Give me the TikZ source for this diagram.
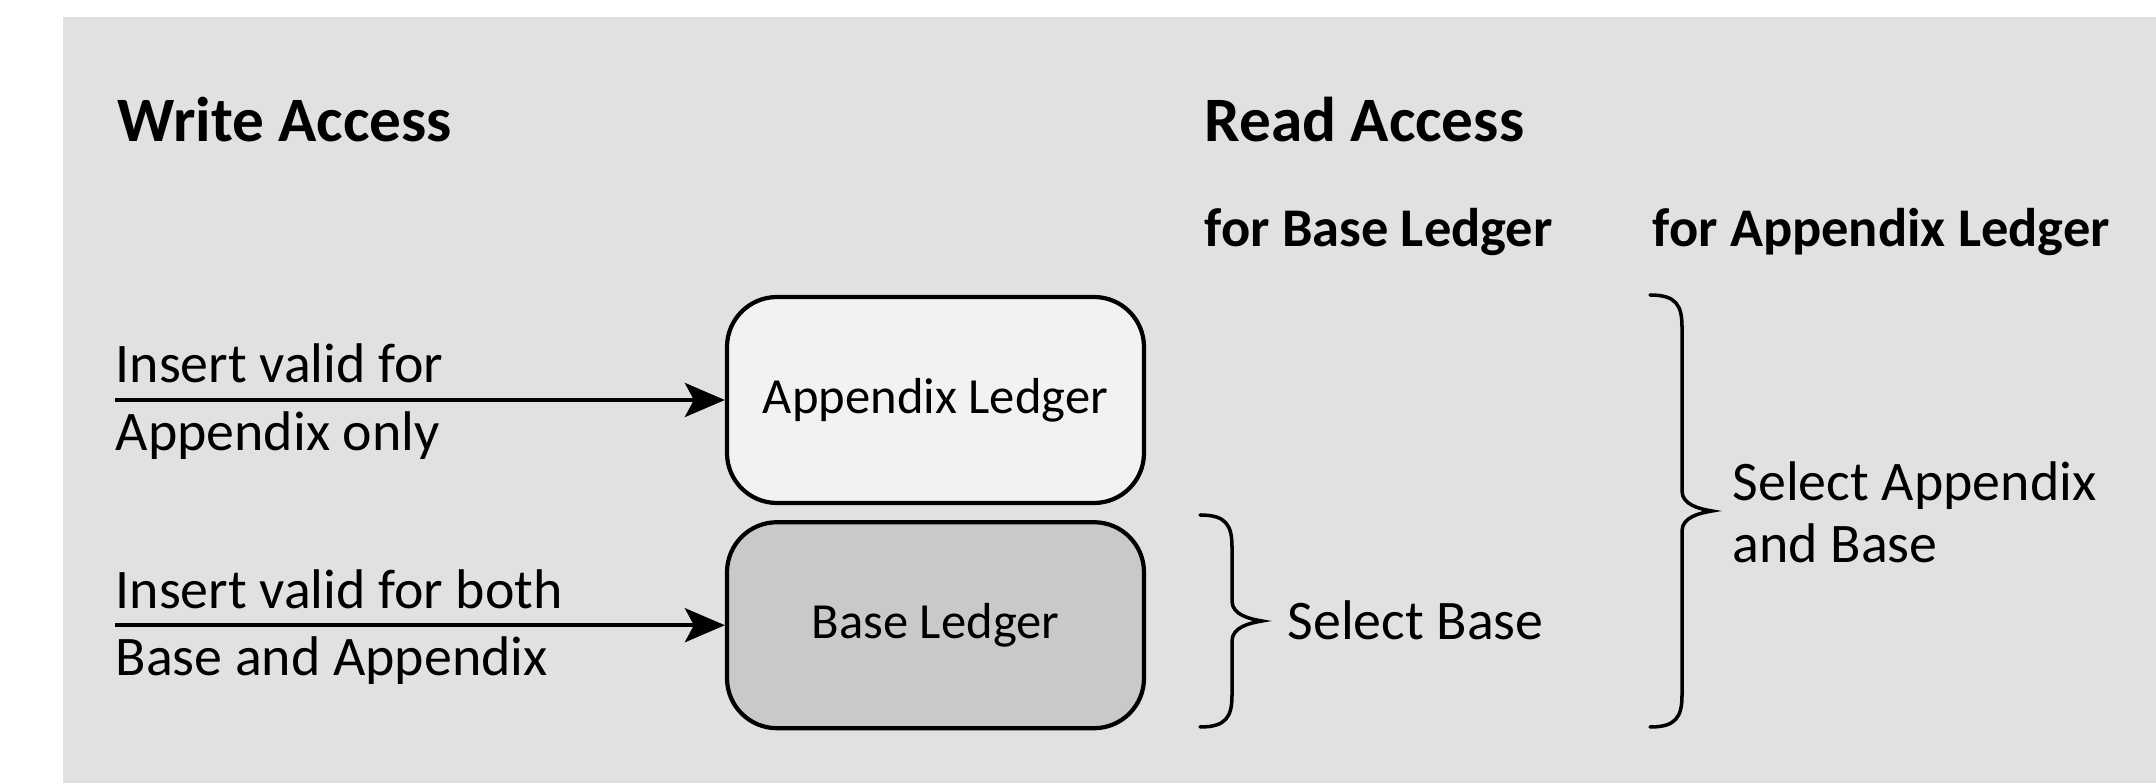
\documentclass[tikz,border=0pt]{standalone}
\usepackage{fontspec}
\setmainfont{Carlito}
\usetikzlibrary{positioning,arrows.meta}
\definecolor{panel}{HTML}{E1E1E1}
\definecolor{applight}{HTML}{F2F2F2}
\definecolor{basedark}{HTML}{C9C9C9}

% right brace from a top point, #2 = straight part of each half
\newcommand{\readbrace}[2]{%
  \draw [curly] (#1) .. controls +(0.26,0) and +(0,0.22) .. ++(0.32,-0.32)
    -- ++(0,-#2)
    .. controls +(0,-0.14) and +(-0.12,0.02) .. ++(0.30,-0.20)
    .. controls +(-0.12,-0.02) and +(0,0.14) .. ++(-0.30,-0.20)
    -- ++(0,-#2)
    .. controls +(0,-0.22) and +(0.26,0) .. ++(-0.32,-0.32);}

\begin{document}
\begin{tikzpicture}[
ledger/.style={rounded corners=5mm,
  minimum width=4.17cm,
  minimum height=2.06cm,
  line width=1.2pt,draw=black,align=center,
  node font=\fontsize{14.4}{17}\selectfont
},
heading/.style={anchor=base west,inner sep=0pt,
  node font=\bfseries\fontsize{18}{22}\selectfont},
subheading/.style={anchor=base west,inner sep=0pt,
  node font=\bfseries\fontsize{15.5}{18}\selectfont},
note/.style={inner sep=0pt,align=left,
  node font=\fontsize{15.9}{17.6}\selectfont},
insert/.style={line width=1.2pt,-{Stealth[length=4mm,width=3.4mm,inset=0.9mm]}},
curly/.style={line width=1pt,line cap=round}
]
\useasboundingbox (0,0) rectangle (21.56,-7.83);
\fill[panel] (0.63,-0.17) rectangle (21.56,-7.83);

\node (write) [heading] at (1.17,-1.42) {Write Access};
\node (read) [heading] at (12.04,-1.42) {Read Access};

\node (forbase) [subheading] at (12.04,-2.47) {for Base Ledger};
\node (forapp) [subheading] at (16.52,-2.47) {for Appendix Ledger};

\node (app) [ledger, fill=applight] at (9.355,-4.00) {Appendix Ledger};

\node (base) [ledger, fill=basedark, below=1.5mm of app] {Base Ledger};

% write side
\coordinate (w1) at (1.15,-4.00);
\coordinate (w2) at (w1 |- base);

\node (ins1a) [note, above right=1.6mm and 0mm of w1] {Insert valid for};
\node (ins1b) [note, below right=1.1mm and 0mm of w1] {Appendix only};
\node (ins2a) [note, above right=1.6mm and 0mm of w2] {Insert valid for both};
\node (ins2b) [note, below right=1.1mm and 0mm of w2] {Base and Appendix};

\draw [insert] (w1) to (app);
\draw [insert] (w2) to (base);

% read side
\coordinate (b1top) at (12.00,-5.15);
\coordinate (b2top) at (16.50,-2.95);

\readbrace{b1top}{0.54}
\readbrace{b2top}{1.64}

\node (selbase) [note, anchor=west] at (12.87,-6.20) {Select Base};
\node (selboth) [note, anchor=west] at (17.32,-5.12) {Select Appendix\\and Base};
\end{tikzpicture}
\end{document}
